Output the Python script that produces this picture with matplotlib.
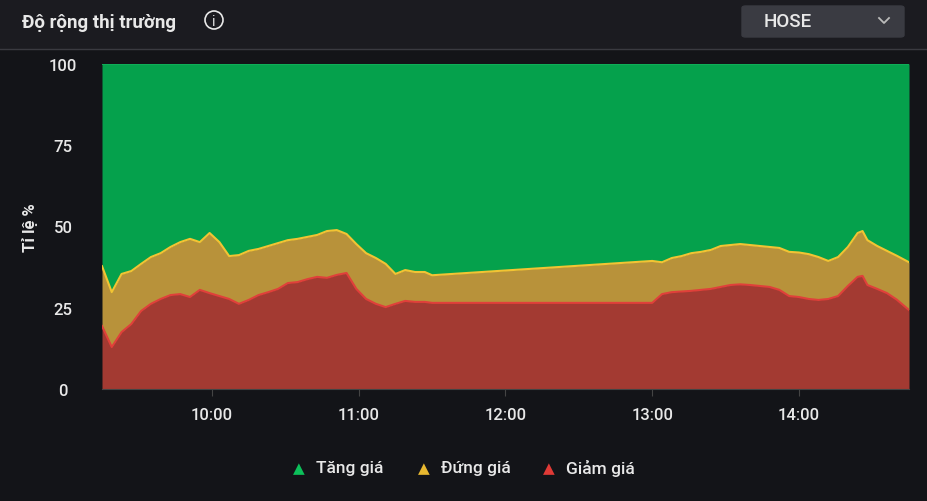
import matplotlib
matplotlib.use("Agg")
import matplotlib.pyplot as plt
from matplotlib.patches import FancyBboxPatch, Ellipse
import numpy as np

# minutes since 9:00
times = [15,19,23,27,31,35,39,43,47,51,55,59,63,67,71,75,79,83,87,91,95,99,103,107,111,115,119,123,127,131,135,139,143,147,150,
         240,244,248,252,256,260,264,268,272,276,280,284,288,292,296,300,304,308,312,316,320,324,326,328,332,336,340,345]
# cumulative top of "Đứng giá" (down + flat)
flat_top = [37.8,29.8,35.4,36.3,38.5,40.6,41.8,43.7,45.2,46.2,45.2,48,45.2,40.9,41.2,42.5,43.1,44,44.9,45.8,46.2,46.8,47.4,48.6,48.9,47.7,44.6,41.8,40.3,38.5,35.4,36.6,36,36,35,
            39.4,39,40.3,40.9,41.8,42.2,42.8,44,44.3,44.6,44.3,44,43.7,43.4,42.2,42,41.5,40.6,39.4,40.6,43.7,48,48.6,45.8,44,42.5,41,39]
# "Giảm giá"
down = [19.4,12.9,17.5,20,24,26.2,27.7,28.9,29.2,28.3,30.5,29.5,28.6,27.7,26.2,27.4,28.9,29.8,30.8,32.6,32.9,33.8,34.5,34.2,35.1,35.7,30.8,27.7,26.2,25.2,26.2,27.1,26.8,26.8,26.5,
        26.5,29.2,29.8,30,30.2,30.5,30.8,31.4,32,32.2,32,31.7,31.4,30.5,28.6,28.3,27.7,27.4,27.7,28.6,31.7,34.5,34.8,32,30.8,29.5,27.5,24.3]
xticks = [60,120,180,240,300]
xticklabels = ["10:00","11:00","12:00","13:00","14:00"]
yticks = [0,25,50,75,100]
legend_labels = ["Tăng giá","Đứng giá","Giảm giá"]

plt.rcParams['font.family'] = ['Roboto','DejaVu Sans']
BG = "#131418"
fig = plt.figure(figsize=(9.28,5.02), dpi=100, facecolor=BG)
# header
fig.patches.append(plt.Rectangle((0,1-50/502),1,50/502,transform=fig.transFigure,color="#1b1b20",zorder=0))
fig.add_artist(plt.Line2D([0,1],[1-50/502]*2,transform=fig.transFigure,color="#3a3a40",lw=1))
fig.text(22/928,1-23/502,"Độ rộng thị trường",color="#e8e8e8",fontsize=13.5,va="center",fontweight="bold")
fig.patches.append(Ellipse((214/928,1-21/502),18/928,18/502,transform=fig.transFigure,
                           facecolor="none",edgecolor="#e8e8e8",lw=1.2,zorder=2))
fig.text(214/928,1-21.5/502,"i",color="#e8e8e8",fontsize=10,va="center",ha="center")
fig.patches.append(FancyBboxPatch((742/928,1-38/502),162/928,31/502,boxstyle="round,pad=0,rounding_size=0.004",
                                  transform=fig.transFigure,color="#3a3b42",zorder=1))
fig.text(764/928,1-22/502,"HOSE",color="#e8e8e8",fontsize=13.5,va="center",fontweight="medium")
fig.add_artist(plt.Line2D([879/928,884/928,889/928],[1-19/502,1-24/502,1-19/502],transform=fig.transFigure,color="#bbbbbb",lw=1.3))

ax = fig.add_axes([102/928, 1-390/502, 807/928, 325/502])
ax.set_facecolor(BG)
t = np.array(times); f = np.array(flat_top); d = np.array(down)
ax.fill_between(t, f, 100, color="#05a14c", lw=0)
ax.fill_between(t, d, f, color="#b8923a", lw=0)
ax.fill_between(t, 0, d, color="#a33a32", lw=0)
ax.plot(t, f, color="#f2c433", lw=1.5)
ax.plot(t, d, color="#e0403a", lw=1.5)
ax.plot([t[0],t[-1]],[100,100],color="#10c060",lw=1.2)
ax.set_xlim(15,345); ax.set_ylim(0,100)
ax.set_xticks(xticks); ax.set_xticklabels(xticklabels)
ax.set_yticks(yticks)
ax.tick_params(colors="#e8e8e8", labelsize=12, length=0)
ax.tick_params(axis='x', length=5, color="#444", pad=8)
ax.tick_params(axis='y', pad=28)
for ytl in ax.get_yticklabels(): ytl.set_ha("center"); ytl.set_fontweight("medium")
for xtl in ax.get_xticklabels(): xtl.set_fontweight("medium")
for s in ax.spines.values(): s.set_visible(False)
ax.spines['bottom'].set_visible(True); ax.spines['bottom'].set_color("#444")
ax.set_ylabel("Tỉ lệ %", color="#e8e8e8", fontsize=12, labelpad=8, fontweight="bold")

cols = ["#0cc05a","#e8b830","#e03a36"]
xs = [299, 424, 549]
for x, c, lab in zip(xs, cols, legend_labels):
    fig.text(x/928, 1-469/502, "▲", color=c, fontsize=11, ha="center", va="center", family=['DejaVu Sans'])
    fig.text((x+17)/928, 1-469/502, lab, color="#e8e8e8", fontsize=12.5, va="center", fontweight="medium")
fig.savefig("out.png", dpi=100, facecolor=BG)
